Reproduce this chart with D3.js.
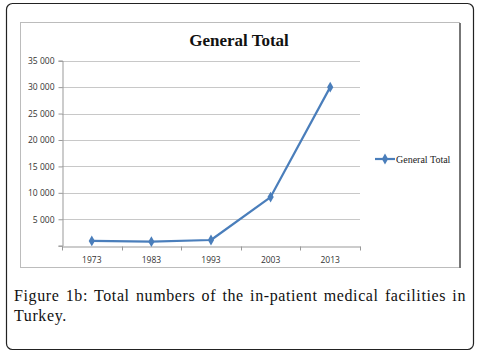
<!DOCTYPE html>
<html>
<head>
<meta charset="utf-8">
<script src="https://cdn.jsdelivr.net/npm/d3@7"></script>
<style>
  body { margin: 0; background: #fff; }
  #wrap { position: relative; width: 477px; height: 356px; }
  #caption {
    position: absolute; left: 14px; top: 286px; width: 452px;
    font-family: "Liberation Serif", "DejaVu Serif", serif;
    font-size: 16px; line-height: 20px; color: #111;
    letter-spacing: 0.6px;
    text-align: justify;
  }
</style>
</head>
<body>
<div id="wrap">
  <div id="chart"></div>
  <div id="caption">Figure 1b: Total numbers of the in-patient medical facilities in Turkey.</div>
</div>
<script>
(function(){
    var years  = ['1973', '1983', '1993', '2003', '2013'];
    var totals = [900, 760, 1080, 9200, 30000];
    var yTicks = [5000, 10000, 15000, 20000, 25000, 30000, 35000];
    var seriesName = 'General Total';

    var WIDTH  = 477,
        HEIGHT = 356,
        PLOT_L = 62,
        PLOT_R = 360,
        PLOT_T = 60.7,
        PLOT_B = 245.7,
        BLUE   = '#4a7ebb';

    var svg = d3.select('#chart')
        .append('svg')
        .attr('width', WIDTH)
        .attr('height', HEIGHT)
        .style('position', 'absolute')
        .style('left', 0).style('top', 0);

    // outer rounded frame
    svg.append('rect')
        .attr('x', 6.5).attr('y', 3.5)
        .attr('width', 467).attr('height', 346)
        .attr('rx', 6).attr('ry', 6)
        .attr('fill', 'none')
        .attr('stroke', '#222')
        .attr('stroke-width', 1.2);

    // chart area box
    svg.append('rect')
        .attr('x', 20.5).attr('y', 22.5)
        .attr('width', 439).attr('height', 245)
        .attr('fill', '#fff')
        .attr('stroke', '#bcbcbc')
        .attr('stroke-width', 1);
    // darker right edge (shadow)
    svg.append('line')
        .attr('x1', 460).attr('x2', 460)
        .attr('y1', 23).attr('y2', 268)
        .attr('stroke', '#777').attr('stroke-width', 2);

    var x = d3.scaleBand()
        .domain(years)
        .range([PLOT_L, PLOT_R]);

    var y = d3.scaleLinear()
        .domain([0, 35000])
        .range([PLOT_B, PLOT_T]);

    // gridlines
    svg.append('g')
        .selectAll('line')
        .data(yTicks)
        .enter().append('line')
        .attr('x1', PLOT_L).attr('x2', PLOT_R)
        .attr('y1', function(d){ return Math.round(y(d)) + 0.5; })
        .attr('y2', function(d){ return Math.round(y(d)) + 0.5; })
        .attr('stroke', '#c8c8c8');

    // y axis
    var yAxis = svg.append('g')
        .attr('transform', 'translate(' + (PLOT_L + 0.5) + ',0)')
        .call(d3.axisLeft(y)
            .tickValues([0].concat(yTicks))
            .tickSize(4)
            .tickFormat(function(d){ return d === 0 ? '' : d3.format(',')(d).replace(',', ' '); }));
    yAxis.select('.domain').attr('stroke', '#999');
    yAxis.selectAll('.tick line').attr('stroke', '#999');
    yAxis.selectAll('text')
        .attr('x', -8)
        .attr('fill', '#333')
        .style('font-family', '"Open Sans", "DejaVu Sans", sans-serif')
        .style('font-size', '8.5px');

    // x axis
    var xAxis = svg.append('g')
        .attr('transform', 'translate(0,' + (Math.round(PLOT_B) + 0.5) + ')')
        .call(d3.axisBottom(x).tickSize(0).tickSizeOuter(0));
    xAxis.select('.domain').attr('stroke', '#999');
    xAxis.selectAll('text')
        .attr('y', 10)
        .attr('fill', '#333')
        .style('font-family', '"Open Sans", "DejaVu Sans", sans-serif')
        .style('font-size', '8.5px');
    // tick marks on band boundaries
    xAxis.selectAll('.bound')
        .data(d3.range(years.length + 1))
        .enter().append('line')
        .attr('class', 'bound')
        .attr('x1', function(i){ return Math.round(PLOT_L + i * x.step()) + 0.5; })
        .attr('x2', function(i){ return Math.round(PLOT_L + i * x.step()) + 0.5; })
        .attr('y1', 0).attr('y2', 4)
        .attr('stroke', '#999');

    // the series line
    var line = d3.line()
        .x(function(d, i){ return x(years[i]) + x.bandwidth() / 2; })
        .y(function(d){ return y(d); });

    svg.append('path')
        .datum(totals)
        .attr('d', line)
        .attr('fill', 'none')
        .attr('stroke', BLUE)
        .attr('stroke-width', 2.2)
        .attr('stroke-linejoin', 'round');

    var diamond = d3.symbol().type(d3.symbolDiamond).size(34);
    svg.append('g')
        .selectAll('path')
        .data(totals)
        .enter().append('path')
        .attr('d', diamond)
        .attr('transform', function(d, i){
            return 'translate(' + (x(years[i]) + x.bandwidth() / 2) + ',' + y(d) + ')';
        })
        .attr('fill', BLUE);

    // title
    svg.append('text')
        .attr('x', 239).attr('y', 46)
        .attr('text-anchor', 'middle')
        .style('font-family', '"Liberation Serif", "DejaVu Serif", serif')
        .style('font-weight', 'bold')
        .style('font-size', '17px')
        .attr('fill', '#111')
        .text(seriesName);

    // legend
    var lg = svg.append('g').attr('transform', 'translate(375,159)');
    lg.append('line')
        .attr('x1', 0).attr('x2', 20)
        .attr('stroke', BLUE).attr('stroke-width', 2.2);
    lg.append('path')
        .attr('d', diamond)
        .attr('transform', 'translate(10,0)')
        .attr('fill', BLUE);
    lg.append('text')
        .attr('x', 21).attr('y', 3.5)
        .style('font-family', '"Liberation Serif", "DejaVu Serif", serif')
        .style('font-size', '10px')
        .attr('fill', '#222')
        .text(seriesName);
})();
</script>
</body>
</html>
